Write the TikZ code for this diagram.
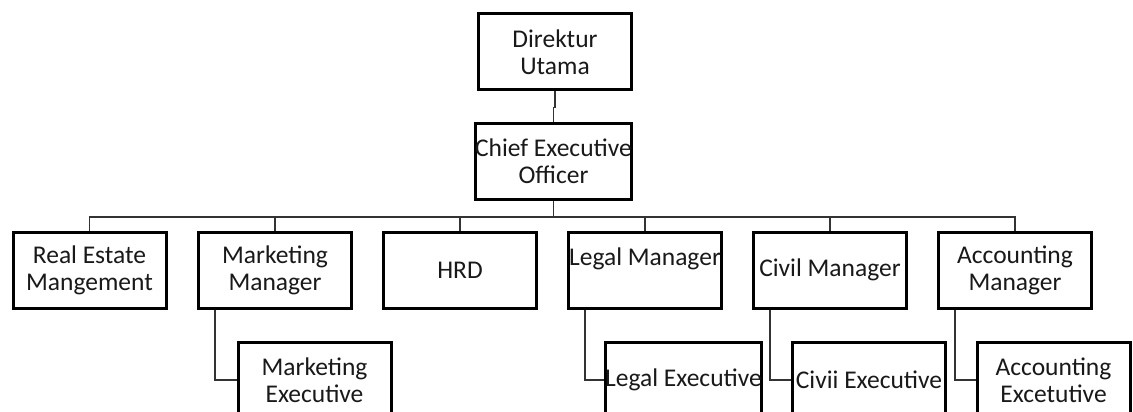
\documentclass[tikz,border=0pt]{standalone}
\usepackage{fontspec}
\setmainfont{Carlito}
\begin{document}
\begin{tikzpicture}[x=1pt,y=-1pt,
  box/.style={draw=black,line width=3pt,fill=white,minimum width=153pt,minimum height=76pt,inner sep=0pt,align=center,
    font=\fontsize{25.5}{27}\selectfont,text=black!90},
  conn/.style={draw=black!80,line width=1.2pt}]
\useasboundingbox (0,0) rectangle (1133,412);
\begin{scope}
\clip (0,0) rectangle (1133,412);
% top
\node[box] (dir) at (555,52) {Direktur\\Utama};
\node[box] (ceo) at (553.5,161.5) {Chief Executive\\Officer};
% level 2
\node[box] (re) at (89.5,270) {Real Estate\\Mangement};
\node[box] (mm) at (275,270) {Marketing\\Manager};
\node[box] (hrd) at (460,270) {HRD};
\node[box] (lm) at (645,270) {Legal Manager\\\mbox{}};
\node[box] (cm) at (830,270) {Civil Manager};
\node[box] (am) at (1015,270) {Accounting\\Manager};
% level 3
\node[box] (me) at (314.5,380) {Marketing\\Executive};
\node[box] (le) at (683.5,380) {Legal Executive};
\node[box] (ce) at (869,380) {Civii Executive};
\node[box] (ae) at (1053.5,380) {Accounting\\Excetutive};
% connectors
\draw[conn] (dir.south) -- ++(0,16) -| (ceo.north);
\coordinate (bus) at (553.5,217);
\draw[conn] (ceo.south) -- (bus);
\draw[conn] (re.north) |- (bus);
\draw[conn] (am.north) |- (bus);
\foreach \n in {mm,hrd,lm,cm}{\draw[conn] (\n.north) -- (\n.north |- bus);}
\draw[conn] ([xshift=18pt]mm.south west) |- (me.west);
\draw[conn] ([xshift=18pt]lm.south west) |- (le.west);
\draw[conn] ([xshift=18pt]cm.south west) |- (ce.west);
\draw[conn] ([xshift=18pt]am.south west) |- (ae.west);
\end{scope}
\end{tikzpicture}
\end{document}
